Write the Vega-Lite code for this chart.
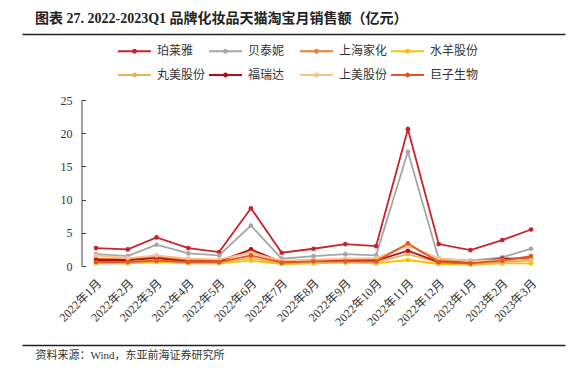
{
  "$schema": "https://vega.github.io/schema/vega-lite/v6.json",
  "width": 543,
  "height": 166,
  "autosize": {"type": "none"},
  "padding": {"left": 22, "top": 100, "right": 16, "bottom": 109},
  "background": "white",
  "title": {
    "text": "图表 27. 2022-2023Q1 品牌化妆品天猫淘宝月销售额（亿元）",
    "anchor": "start",
    "frame": "group",
    "font": "Liberation Serif, Noto Sans CJK SC",
    "fontSize": 14,
    "fontWeight": "bold",
    "color": "#222222",
    "dx": 13,
    "offset": 8
  },
  "config": {
    "view": {"stroke": null},
    "axis": {"grid": false},
    "axisY": {
      "title": null,
      "offset": -59.5,
      "domain": true,
      "ticks": true,
      "domainColor": "#404040",
      "tickColor": "#404040",
      "tickSize": -4,
      "labelPadding": 13.5,
      "labelFont": "Liberation Serif",
      "labelFontSize": 12,
      "labelColor": "#333333",
      "grid": false
    }
  },
  "resolve": {"axis": {"x": "independent"}},
  "layer": [
    {
      "data": {
        "values": [
          {"month": "2022-01-01", "brand": "珀莱雅", "sales": 2.7},
          {"month": "2022-02-01", "brand": "珀莱雅", "sales": 2.5},
          {"month": "2022-03-01", "brand": "珀莱雅", "sales": 4.3},
          {"month": "2022-04-01", "brand": "珀莱雅", "sales": 2.7},
          {"month": "2022-05-01", "brand": "珀莱雅", "sales": 2.1},
          {"month": "2022-06-01", "brand": "珀莱雅", "sales": 8.7},
          {"month": "2022-07-01", "brand": "珀莱雅", "sales": 2.0},
          {"month": "2022-08-01", "brand": "珀莱雅", "sales": 2.6},
          {"month": "2022-09-01", "brand": "珀莱雅", "sales": 3.3},
          {"month": "2022-10-01", "brand": "珀莱雅", "sales": 3.0},
          {"month": "2022-11-01", "brand": "珀莱雅", "sales": 20.6},
          {"month": "2022-12-01", "brand": "珀莱雅", "sales": 3.3},
          {"month": "2023-01-01", "brand": "珀莱雅", "sales": 2.4},
          {"month": "2023-02-01", "brand": "珀莱雅", "sales": 3.9},
          {"month": "2023-03-01", "brand": "珀莱雅", "sales": 5.5},
          {"month": "2022-01-01", "brand": "贝泰妮", "sales": 1.8},
          {"month": "2022-02-01", "brand": "贝泰妮", "sales": 1.5},
          {"month": "2022-03-01", "brand": "贝泰妮", "sales": 3.2},
          {"month": "2022-04-01", "brand": "贝泰妮", "sales": 1.9},
          {"month": "2022-05-01", "brand": "贝泰妮", "sales": 1.6},
          {"month": "2022-06-01", "brand": "贝泰妮", "sales": 6.1},
          {"month": "2022-07-01", "brand": "贝泰妮", "sales": 1.1},
          {"month": "2022-08-01", "brand": "贝泰妮", "sales": 1.5},
          {"month": "2022-09-01", "brand": "贝泰妮", "sales": 1.8},
          {"month": "2022-10-01", "brand": "贝泰妮", "sales": 1.6},
          {"month": "2022-11-01", "brand": "贝泰妮", "sales": 17.2},
          {"month": "2022-12-01", "brand": "贝泰妮", "sales": 1.1},
          {"month": "2023-01-01", "brand": "贝泰妮", "sales": 0.8},
          {"month": "2023-02-01", "brand": "贝泰妮", "sales": 1.3},
          {"month": "2023-03-01", "brand": "贝泰妮", "sales": 2.6},
          {"month": "2022-01-01", "brand": "上海家化", "sales": 1.1},
          {"month": "2022-02-01", "brand": "上海家化", "sales": 1.0},
          {"month": "2022-03-01", "brand": "上海家化", "sales": 1.4},
          {"month": "2022-04-01", "brand": "上海家化", "sales": 0.9},
          {"month": "2022-05-01", "brand": "上海家化", "sales": 0.9},
          {"month": "2022-06-01", "brand": "上海家化", "sales": 2.1},
          {"month": "2022-07-01", "brand": "上海家化", "sales": 0.7},
          {"month": "2022-08-01", "brand": "上海家化", "sales": 0.9},
          {"month": "2022-09-01", "brand": "上海家化", "sales": 1.0},
          {"month": "2022-10-01", "brand": "上海家化", "sales": 1.0},
          {"month": "2022-11-01", "brand": "上海家化", "sales": 3.2},
          {"month": "2022-12-01", "brand": "上海家化", "sales": 0.8},
          {"month": "2023-01-01", "brand": "上海家化", "sales": 0.6},
          {"month": "2023-02-01", "brand": "上海家化", "sales": 0.8},
          {"month": "2023-03-01", "brand": "上海家化", "sales": 1.1},
          {"month": "2022-01-01", "brand": "水羊股份", "sales": 0.4},
          {"month": "2022-02-01", "brand": "水羊股份", "sales": 0.4},
          {"month": "2022-03-01", "brand": "水羊股份", "sales": 0.6},
          {"month": "2022-04-01", "brand": "水羊股份", "sales": 0.4},
          {"month": "2022-05-01", "brand": "水羊股份", "sales": 0.4},
          {"month": "2022-06-01", "brand": "水羊股份", "sales": 0.8},
          {"month": "2022-07-01", "brand": "水羊股份", "sales": 0.3},
          {"month": "2022-08-01", "brand": "水羊股份", "sales": 0.4},
          {"month": "2022-09-01", "brand": "水羊股份", "sales": 0.5},
          {"month": "2022-10-01", "brand": "水羊股份", "sales": 0.4},
          {"month": "2022-11-01", "brand": "水羊股份", "sales": 0.9},
          {"month": "2022-12-01", "brand": "水羊股份", "sales": 0.3},
          {"month": "2023-01-01", "brand": "水羊股份", "sales": 0.2},
          {"month": "2023-02-01", "brand": "水羊股份", "sales": 0.4},
          {"month": "2023-03-01", "brand": "水羊股份", "sales": 0.4},
          {"month": "2022-01-01", "brand": "丸美股份", "sales": 0.6},
          {"month": "2022-02-01", "brand": "丸美股份", "sales": 0.6},
          {"month": "2022-03-01", "brand": "丸美股份", "sales": 0.8},
          {"month": "2022-04-01", "brand": "丸美股份", "sales": 0.5},
          {"month": "2022-05-01", "brand": "丸美股份", "sales": 0.5},
          {"month": "2022-06-01", "brand": "丸美股份", "sales": 1.2},
          {"month": "2022-07-01", "brand": "丸美股份", "sales": 0.4},
          {"month": "2022-08-01", "brand": "丸美股份", "sales": 0.6},
          {"month": "2022-09-01", "brand": "丸美股份", "sales": 0.6},
          {"month": "2022-10-01", "brand": "丸美股份", "sales": 0.6},
          {"month": "2022-11-01", "brand": "丸美股份", "sales": 1.8},
          {"month": "2022-12-01", "brand": "丸美股份", "sales": 0.5},
          {"month": "2023-01-01", "brand": "丸美股份", "sales": 0.3},
          {"month": "2023-02-01", "brand": "丸美股份", "sales": 0.6},
          {"month": "2023-03-01", "brand": "丸美股份", "sales": 0.8},
          {"month": "2022-01-01", "brand": "福瑞达", "sales": 0.9},
          {"month": "2022-02-01", "brand": "福瑞达", "sales": 0.9},
          {"month": "2022-03-01", "brand": "福瑞达", "sales": 1.2},
          {"month": "2022-04-01", "brand": "福瑞达", "sales": 0.7},
          {"month": "2022-05-01", "brand": "福瑞达", "sales": 0.7},
          {"month": "2022-06-01", "brand": "福瑞达", "sales": 2.5},
          {"month": "2022-07-01", "brand": "福瑞达", "sales": 0.6},
          {"month": "2022-08-01", "brand": "福瑞达", "sales": 0.8},
          {"month": "2022-09-01", "brand": "福瑞达", "sales": 0.8},
          {"month": "2022-10-01", "brand": "福瑞达", "sales": 0.8},
          {"month": "2022-11-01", "brand": "福瑞达", "sales": 2.3},
          {"month": "2022-12-01", "brand": "福瑞达", "sales": 0.6},
          {"month": "2023-01-01", "brand": "福瑞达", "sales": 0.5},
          {"month": "2023-02-01", "brand": "福瑞达", "sales": 1.1},
          {"month": "2023-03-01", "brand": "福瑞达", "sales": 1.2},
          {"month": "2022-01-01", "brand": "上美股份", "sales": 1.6},
          {"month": "2022-02-01", "brand": "上美股份", "sales": 1.2},
          {"month": "2022-03-01", "brand": "上美股份", "sales": 1.6},
          {"month": "2022-04-01", "brand": "上美股份", "sales": 1.1},
          {"month": "2022-05-01", "brand": "上美股份", "sales": 1.0},
          {"month": "2022-06-01", "brand": "上美股份", "sales": 2.0},
          {"month": "2022-07-01", "brand": "上美股份", "sales": 0.8},
          {"month": "2022-08-01", "brand": "上美股份", "sales": 0.9},
          {"month": "2022-09-01", "brand": "上美股份", "sales": 1.1},
          {"month": "2022-10-01", "brand": "上美股份", "sales": 1.2},
          {"month": "2022-11-01", "brand": "上美股份", "sales": 3.0},
          {"month": "2022-12-01", "brand": "上美股份", "sales": 1.2},
          {"month": "2023-01-01", "brand": "上美股份", "sales": 0.7},
          {"month": "2023-02-01", "brand": "上美股份", "sales": 0.9},
          {"month": "2023-03-01", "brand": "上美股份", "sales": 1.0},
          {"month": "2022-01-01", "brand": "巨子生物", "sales": 0.6},
          {"month": "2022-02-01", "brand": "巨子生物", "sales": 0.6},
          {"month": "2022-03-01", "brand": "巨子生物", "sales": 0.8},
          {"month": "2022-04-01", "brand": "巨子生物", "sales": 0.6},
          {"month": "2022-05-01", "brand": "巨子生物", "sales": 0.6},
          {"month": "2022-06-01", "brand": "巨子生物", "sales": 1.6},
          {"month": "2022-07-01", "brand": "巨子生物", "sales": 0.5},
          {"month": "2022-08-01", "brand": "巨子生物", "sales": 0.7},
          {"month": "2022-09-01", "brand": "巨子生物", "sales": 0.7},
          {"month": "2022-10-01", "brand": "巨子生物", "sales": 0.7},
          {"month": "2022-11-01", "brand": "巨子生物", "sales": 3.4},
          {"month": "2022-12-01", "brand": "巨子生物", "sales": 0.6},
          {"month": "2023-01-01", "brand": "巨子生物", "sales": 0.4},
          {"month": "2023-02-01", "brand": "巨子生物", "sales": 0.8},
          {"month": "2023-03-01", "brand": "巨子生物", "sales": 1.5}
        ]
      },
      "mark": {"type": "line", "strokeWidth": 1.8, "point": {"filled": true, "size": 22}},
      "encoding": {
        "x": {
          "field": "month",
          "type": "temporal",
          "scale": {
            "type": "utc",
            "domain": [
              {"year": 2021, "month": 10, "date": 20, "hours": 21, "utc": true},
              {"year": 2023, "month": 4, "date": 3, "hours": 3, "utc": true}
            ]
          },
          "axis": {
            "orient": "bottom",
            "title": null,
            "domain": false,
            "ticks": false,
            "grid": false,
            "values": [
              {"year": 2022, "month": 1, "date": 1, "utc": true},
              {"year": 2022, "month": 2, "date": 1, "utc": true},
              {"year": 2022, "month": 3, "date": 1, "utc": true},
              {"year": 2022, "month": 4, "date": 1, "utc": true},
              {"year": 2022, "month": 5, "date": 1, "utc": true},
              {"year": 2022, "month": 6, "date": 1, "utc": true},
              {"year": 2022, "month": 7, "date": 1, "utc": true},
              {"year": 2022, "month": 8, "date": 1, "utc": true},
              {"year": 2022, "month": 9, "date": 1, "utc": true},
              {"year": 2022, "month": 10, "date": 1, "utc": true},
              {"year": 2022, "month": 11, "date": 1, "utc": true},
              {"year": 2022, "month": 12, "date": 1, "utc": true},
              {"year": 2023, "month": 1, "date": 1, "utc": true},
              {"year": 2023, "month": 2, "date": 1, "utc": true},
              {"year": 2023, "month": 3, "date": 1, "utc": true}
            ],
            "format": "%Y年%-m月",
            "labelAngle": -45,
            "labelAlign": "right",
            "labelBaseline": "middle",
            "labelPadding": 15,
            "labelOffset": 3,
            "labelFont": "Liberation Serif, Noto Sans CJK SC",
            "labelFontSize": 12,
            "labelColor": "#333333",
            "labelOverlap": false,
            "labelBound": false,
            "labelFlush": false
          }
        },
        "y": {
          "field": "sales",
          "type": "quantitative",
          "scale": {"domain": [0, 25], "nice": false, "zero": true},
          "axis": {"values": [0, 5, 10, 15, 20, 25]}
        },
        "color": {
          "field": "brand",
          "type": "nominal",
          "scale": {
            "domain": ["珀莱雅", "贝泰妮", "上海家化", "水羊股份", "丸美股份", "福瑞达", "上美股份", "巨子生物"],
            "range": ["#C8232C", "#A6A6A6", "#F07C28", "#FFC000", "#E5B45A", "#B0101A", "#F8C28A", "#E2572A"]
          },
          "legend": {
            "title": null,
            "orient": "none",
            "legendX": 95,
            "legendY": -66.5,
            "direction": "horizontal",
            "columns": 4,
            "gridAlign": "all",
            "columnPadding": -1,
            "rowPadding": -12.5,
            "padding": 0,
            "symbolType": "M-1,0H1M-0.09,0A0.09,0.09,0,1,1,0.09,0A0.09,0.09,0,1,1,-0.09,0",
            "symbolSize": 1089,
            "symbolStrokeWidth": 2,
            "labelOffset": 5,
            "labelFont": "Noto Sans CJK SC",
            "labelFontSize": 12,
            "labelColor": "#333333"
          }
        }
      }
    },
    {
      "mark": {"type": "rule", "color": "#404040", "strokeWidth": 1},
      "encoding": {
        "x": {
          "datum": {"year": 2021, "month": 12, "date": 18, "utc": true},
          "type": "temporal",
          "axis": {
            "orient": "top",
            "offset": 66,
            "title": null,
            "labels": false,
            "ticks": false,
            "grid": false,
            "domain": true,
            "domainColor": "#222222",
            "domainWidth": 1.5
          }
        },
        "x2": {"datum": {"year": 2023, "month": 3, "date": 17, "utc": true}},
        "y": {"datum": 0, "type": "quantitative", "axis": {"values": [0, 5, 10, 15, 20, 25]}}
      }
    },
    {
      "mark": {"type": "rule", "color": "#404040", "strokeWidth": 1},
      "encoding": {
        "x": {
          "datum": {"year": 2021, "month": 12, "date": 18, "utc": true},
          "type": "temporal",
          "axis": null
        },
        "y": {"datum": 0, "type": "quantitative", "axis": {"values": [0, 5, 10, 15, 20, 25]}},
        "y2": {"datum": 25}
      }
    },
    {
      "mark": {"type": "rule", "color": "#404040", "strokeWidth": 1},
      "encoding": {
        "x": {
          "datum": {"year": 2021, "month": 12, "date": 18, "utc": true},
          "type": "temporal",
          "axis": {
            "orient": "bottom",
            "offset": 79,
            "title": "资料来源：Wind，东亚前海证券研究所",
            "titleAnchor": "start",
            "titleAlign": "left",
            "titleX": 13,
            "titlePadding": 4,
            "titleFont": "Liberation Serif, Noto Sans CJK SC",
            "titleFontSize": 11,
            "titleFontWeight": "normal",
            "titleColor": "#333333",
            "labels": false,
            "ticks": false,
            "grid": false,
            "domain": true,
            "domainColor": "#222222",
            "domainWidth": 1.5
          }
        },
        "y": {"datum": 0, "type": "quantitative", "axis": {"values": [0, 5, 10, 15, 20, 25]}}
      }
    }
  ]
}
